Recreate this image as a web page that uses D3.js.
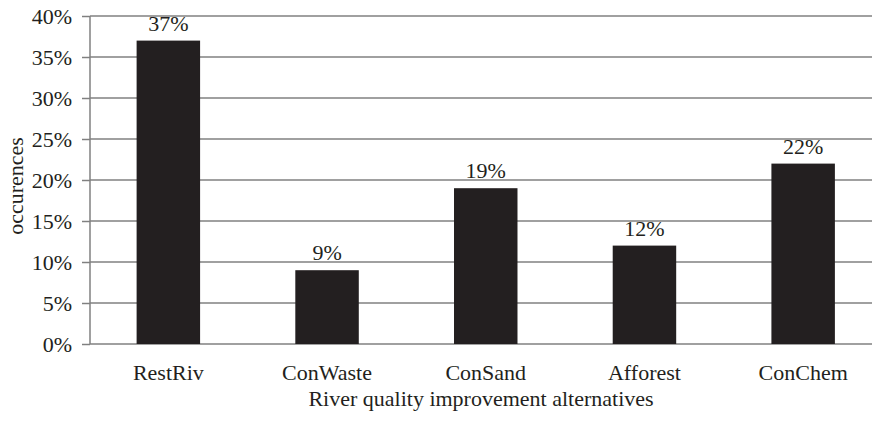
<!DOCTYPE html>
<html>
<head>
<meta charset="utf-8">
<script src="https://cdn.jsdelivr.net/npm/d3@7"></script>
<style>
  html, body { margin: 0; padding: 0; background: #fff; }
  svg { display: block; }
  text { font-family: "Liberation Serif", "Times New Roman", serif; fill: #231f20; }
</style>
</head>
<body>
<svg id="chart" width="872" height="423"></svg>
<script>
// River quality improvement alternatives and share of occurrences (%)
const categories = ["RestRiv", "ConWaste", "ConSand", "Afforest", "ConChem"];
const occurrences = [37, 9, 19, 12, 22];
const yTicks = [0, 5, 10, 15, 20, 25, 30, 35, 40];
const xTitle = "River quality improvement alternatives";
const yTitle = "occurences";

const svg = d3.select("#chart");
const chartW = 872;
const plotLeft = 90, plotTop = 16, plotBottom = 344;
const fontSize = 22;

const x = d3.scaleBand()
  .domain(categories)
  .range([89, 882.5])
  .paddingInner(0.6)
  .paddingOuter(0.3);

const y = d3.scaleLinear().domain([0, 40]).range([plotBottom, plotTop]);

// horizontal gridlines
svg.append("g")
  .selectAll("line")
  .data(yTicks)
  .join("line")
  .attr("x1", plotLeft)
  .attr("x2", chartW)
  .attr("y1", d => y(d))
  .attr("y2", d => y(d))
  .attr("stroke", "#808080")
  .attr("stroke-width", 1.5);

// left axis with tick marks and percentage labels
const yAxis = d3.axisLeft(y)
  .tickValues(yTicks)
  .tickSize(8)
  .tickPadding(10)
  .tickFormat(d => d + "%");

const gy = svg.append("g")
  .attr("transform", `translate(${plotLeft},0)`)
  .call(yAxis);
gy.select(".domain").attr("stroke", "#808080").attr("stroke-width", 1.5)
  .attr("d", `M0,${plotTop}V${plotBottom}`);
gy.selectAll(".tick line").attr("stroke", "#808080").attr("stroke-width", 1.5);
gy.selectAll(".tick text")
  .attr("font-size", fontSize)
  .attr("font-family", "Liberation Serif, serif")
  .attr("fill", "#231f20");

// bars
svg.append("g")
  .selectAll("rect")
  .data(categories)
  .join("rect")
  .attr("x", d => x(d))
  .attr("width", x.bandwidth())
  .attr("y", (d, i) => y(occurrences[i]))
  .attr("height", (d, i) => y(0) - y(occurrences[i]))
  .attr("fill", "#231f20");

// value labels above bars
svg.append("g")
  .selectAll("text")
  .data(categories)
  .join("text")
  .attr("x", d => x(d) + x.bandwidth() / 2)
  .attr("y", (d, i) => y(occurrences[i]) - 10)
  .attr("text-anchor", "middle")
  .attr("font-size", fontSize)
  .text((d, i) => occurrences[i] + "%");

// category labels
svg.append("g")
  .selectAll("text")
  .data(categories)
  .join("text")
  .attr("x", d => x(d) + x.bandwidth() / 2)
  .attr("y", 380)
  .attr("text-anchor", "middle")
  .attr("font-size", fontSize)
  .text(d => d);

// axis titles
svg.append("text")
  .attr("x", 481)
  .attr("y", 406)
  .attr("text-anchor", "middle")
  .attr("font-size", fontSize)
  .text(xTitle);

svg.append("text")
  .attr("transform", "translate(23,186) rotate(-90)")
  .attr("text-anchor", "middle")
  .attr("font-size", fontSize)
  .text(yTitle);
</script>
</body>
</html>
